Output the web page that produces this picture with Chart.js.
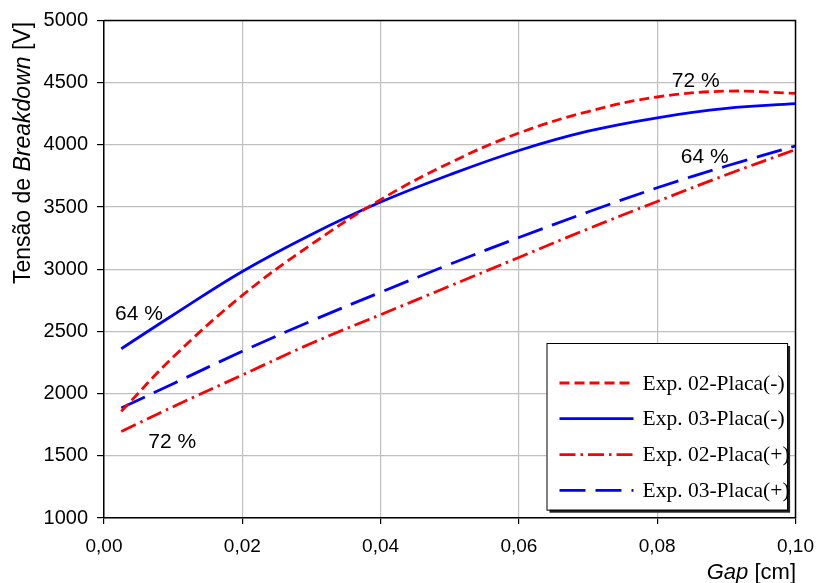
<!DOCTYPE html>
<html>
<head>
<meta charset="utf-8">
<script src="https://cdn.jsdelivr.net/npm/chart.js@4.4.0/dist/chart.umd.min.js"></script>
<style>
  html, body { margin: 0; padding: 0; background: #fff; }
</style>
</head>
<body>
<canvas id="gapChart" width="817" height="583"></canvas>
<script>
// gap in cm, breakdown voltage in V
const gap = [0.0025, 0.01, 0.02, 0.03, 0.04, 0.05, 0.06, 0.07, 0.08, 0.09, 0.10];
const exp02Neg = [1857, 2294, 2790, 3200, 3560, 3855, 4095, 4268, 4385, 4432, 4414];
const exp03Neg = [2361, 2632, 2982, 3280, 3540, 3760, 3955, 4110, 4218, 4293, 4331];
const exp02Pos = [1696, 1895, 2150, 2405, 2635, 2865, 3095, 3325, 3545, 3760, 3962];
const exp03Pos = [1884, 2080, 2340, 2585, 2815, 3040, 3255, 3460, 3655, 3830, 3991];

const seriesNames = ["Exp. 02-Placa(-)", "Exp. 03-Placa(-)", "Exp. 02-Placa(+)", "Exp. 03-Placa(+)"];

// percentage notes next to the curve ends
const notes = [
  { text: "64 %", x: 0.0016, y: 2594 },
  { text: "72 %", x: 0.0064, y: 1563 },
  { text: "72 %", x: 0.0821, y: 4469 },
  { text: "64 %", x: 0.0834, y: 3854 }
];

const SANS = "'Liberation Sans', Arial, sans-serif";
const SERIF = "'Liberation Serif', 'Times New Roman', serif";

function pts(vals) {
  return gap.map((g, i) => ({ x: g, y: vals[i] }));
}

function series(label, vals, color, dash) {
  return {
    label: label,
    data: pts(vals),
    borderColor: color,
    borderWidth: 2.8,
    borderDash: dash,
    pointRadius: 0,
    tension: 0.4,
    fill: false
  };
}

const extras = {
  id: "extras",
  afterDraw(chart) {
    const ctx = chart.ctx;
    const a = chart.chartArea;
    const xs = chart.scales.x, ys = chart.scales.y;
    ctx.save();

    // frame top and right
    ctx.strokeStyle = "#000";
    ctx.lineWidth = 1.5;
    ctx.beginPath();
    ctx.moveTo(a.left, a.top);
    ctx.lineTo(a.right, a.top);
    ctx.lineTo(a.right, a.bottom);
    ctx.stroke();

    // notes
    ctx.fillStyle = "#000";
    ctx.font = "21px " + SANS;
    ctx.textAlign = "left";
    ctx.textBaseline = "alphabetic";
    notes.forEach(n => ctx.fillText(n.text, xs.getPixelForValue(n.x), ys.getPixelForValue(n.y)));

    // legend box with shadow
    const bx = a.right - 249, by = a.bottom - 175, bw = 240.6, bh = 166.7;
    ctx.fillStyle = "#222";
    ctx.fillRect(bx + 3, by + 3, bw, bh);
    ctx.fillStyle = "#fff";
    ctx.fillRect(bx, by, bw, bh);
    ctx.strokeStyle = "#000";
    ctx.lineWidth = 1;
    ctx.strokeRect(bx + 0.5, by + 0.5, bw, bh);

    const rows = [40, 75.7, 111.7, 147.4];
    chart.data.datasets.forEach((ds, i) => {
      const y = by + rows[i];
      ctx.strokeStyle = ds.borderColor;
      ctx.lineWidth = 2.8;
      ctx.setLineDash(ds.borderDash || []);
      ctx.beginPath();
      ctx.moveTo(bx + 13, y);
      ctx.lineTo(bx + 87, y);
      ctx.stroke();
      ctx.setLineDash([]);
      ctx.fillStyle = "#000";
      ctx.font = "21.5px " + SERIF;
      ctx.textBaseline = "middle";
      ctx.fillText(ds.label, bx + 96, y + 1);
    });

    // y axis title, "Breakdown" in italic
    const parts = [["Tensão de ", ""], ["Breakdown", "italic "], [" [V]", ""]];
    let total = 0;
    parts.forEach(p => { ctx.font = p[1] + "23px " + SANS; total += ctx.measureText(p[0]).width; });
    ctx.translate(24, 153);
    ctx.rotate(-Math.PI / 2);
    ctx.textBaseline = "middle";
    let px = -total / 2;
    parts.forEach(p => {
      ctx.font = p[1] + "23px " + SANS;
      ctx.fillText(p[0], px, 0);
      px += ctx.measureText(p[0]).width;
    });
    ctx.setTransform(1, 0, 0, 1, 0, 0);

    // x axis title, "Gap" in italic
    ctx.textBaseline = "alphabetic";
    ctx.font = "22px " + SANS;
    const tail = " [cm]";
    const tw = ctx.measureText(tail).width;
    ctx.textAlign = "right";
    ctx.fillText(tail, 796, 579);
    ctx.font = "italic 22px " + SANS;
    ctx.fillText("Gap", 796 - tw, 579);

    ctx.restore();
  }
};

new Chart(document.getElementById("gapChart").getContext("2d"), {
  type: "line",
  data: {
    datasets: [
      series(seriesNames[0], exp02Neg, "#ff0000", [10, 5]),
      series(seriesNames[1], exp03Neg, "#0000ff", []),
      series(seriesNames[2], exp02Pos, "#ff0000", [16, 5, 2.5, 5]),
      series(seriesNames[3], exp03Pos, "#0000ff", [26, 10])
    ]
  },
  options: {
    responsive: false,
    animation: false,
    layout: { padding: { top: 20.5, right: 21.5, left: 0, bottom: 0 } },
    plugins: { legend: { display: false }, tooltip: { enabled: false } },
    scales: {
      x: {
        type: "linear",
        min: 0,
        max: 0.1,
        afterFit(s) { s.height = 65; s.paddingLeft = 0; s.paddingRight = 0; },
        ticks: {
          stepSize: 0.02,
          color: "#000",
          font: { family: SANS, size: 19 },
          padding: 11,
          maxRotation: 0,
          callback: v => v.toFixed(2).replace(".", ",")
        },
        grid: { color: "#c0c0c0", lineWidth: 1.2, tickColor: "#000", tickLength: 6 },
        border: { color: "#000", width: 1.5 }
      },
      y: {
        min: 1000,
        max: 5000,
        afterFit(s) { s.width = 104; s.paddingTop = 0; s.paddingBottom = 0; },
        ticks: {
          stepSize: 500,
          color: "#000",
          font: { family: SANS, size: 20 },
          padding: 9,
          callback: v => String(v)
        },
        grid: { color: "#c0c0c0", lineWidth: 1.2, tickColor: "#000", tickLength: 7 },
        border: { color: "#000", width: 1.5 }
      }
    }
  },
  plugins: [extras]
});
</script>
</body>
</html>
